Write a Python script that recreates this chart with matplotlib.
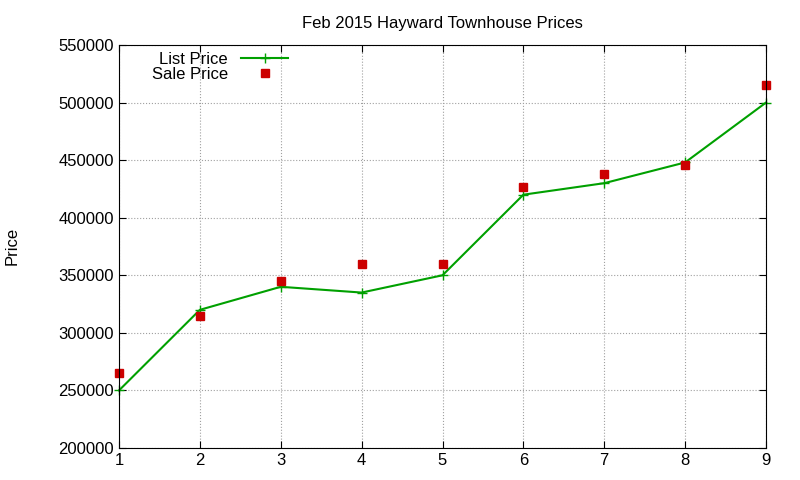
import matplotlib
matplotlib.use("Agg")
import matplotlib.pyplot as plt

x = [1, 2, 3, 4, 5, 6, 7, 8, 9]
list_price = [250000, 320000, 340000, 335000, 350000, 420000, 430000, 448000, 500000]
sale_price = [265000, 315000, 345000, 360000, 360000, 427000, 438000, 446000, 515000]
yticks = [200000, 250000, 300000, 350000, 400000, 450000, 500000, 550000]

plt.rcParams['font.family'] = ['Liberation Sans', 'DejaVu Sans']
fig = plt.figure(figsize=(8, 4.8), dpi=100)
ax = fig.add_axes([119/800, 1-448/480, (766-119)/800, (448-45)/480])
ax.plot(x, list_price, color='#00a000', marker='+', markersize=7, lw=1.5, label='List Price', clip_on=False)
ax.plot(x, sale_price, color='#cc0000', marker='s', markersize=6, ls='none', label='Sale Price', clip_on=False)
ax.set_xlim(1, 9)
ax.set_ylim(200000, 550000)
ax.set_yticks(yticks)
ax.set_yticklabels([str(v) for v in yticks])
ax.set_xticks(x)
ax.tick_params(labelsize=12, direction='in', length=5, top=True, right=True)
ax.grid(True, color='#a0a0a0', ls=':', lw=0.8)
ax.set_title('Feb 2015 Hayward Townhouse Prices', fontsize=12, pad=12)
fig.text(12/800, 1-246/480, 'Price', rotation=90, ha='center', va='center', fontsize=12)
ax.legend(loc='upper left', bbox_to_anchor=(0.03, 1.015), frameon=False, markerfirst=False,
          fontsize=12, handlelength=2.8, borderpad=0.3, labelspacing=0.0, alignment='right')
fig.savefig('out.png', dpi=100)
